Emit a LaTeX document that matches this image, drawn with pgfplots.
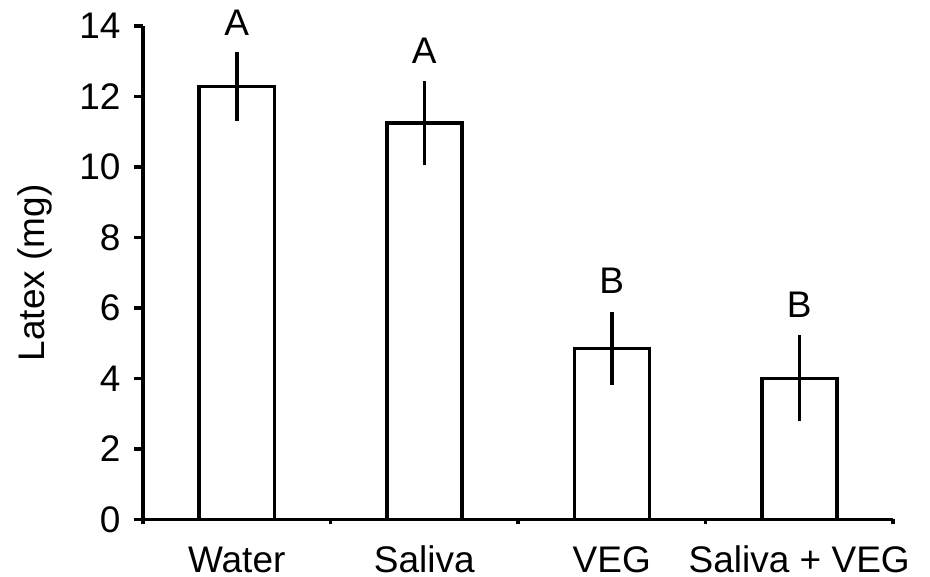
\documentclass[border=0pt]{standalone}
\usepackage{fontspec}
\setmainfont{Liberation Sans}
\usepackage{pgfplots}
\pgfplotsset{compat=1.18}
\begin{document}
\begin{tikzpicture}
\useasboundingbox (0,0) rectangle (930pt,577pt);
\begin{axis}[
  at={(143pt,57.5pt)}, anchor=south west,
  scale only axis, width=750pt, height=493.5pt,
  xmin=-0.5, xmax=3.5, ymin=0, ymax=14,
  axis x line=bottom, axis y line=left,
  axis line style={-, line width=3.5pt},
  ytick={0,2,...,14},
  xtick={0,1,2,3},
  xticklabels={Water,Saliva,VEG,Saliva + VEG},
  minor xtick={-0.5,0.5,1.5,2.5,3.5},
  every major x tick/.append style={draw=none},
  tick align=outside,
  major tick length=9pt, minor tick length=5pt,
  tick style={line width=3.5pt, black},
  /pgf/number format/assume math mode=true,
  font=\fontsize{37}{40}\selectfont,
  ticklabel style={font=\fontsize{37}{40}\selectfont},
  xticklabel style={anchor=base, inner sep=0pt, yshift=-44pt},
  yticklabel shift=10pt,
  ylabel={Latex (mg)},
  every axis y label/.style={at={(axis description cs:-0.144,0.5)}, rotate=90, anchor=center, font=\fontsize{37}{40}\selectfont},
  clip=false,
]
\addplot[ybar, bar width=75pt, bar shift=0pt, fill=white, draw=black, line width=3.5pt,
  error bars/.cd, y dir=both, y explicit, error mark=none,
  error bar style={line width=3.5pt, black}]
  coordinates {
  (0,12.28) +- (0,0.98)
  (1,11.25) +- (0,1.2)
  (2,4.85) +- (0,1.03)
  (3,4.0) +- (0,1.22)
  };
\node[anchor=base, font=\fontsize{37}{40}\selectfont] at ([yshift=17pt]axis cs:0,13.26) {A};
\node[anchor=base, font=\fontsize{37}{40}\selectfont] at ([yshift=17pt]axis cs:1,12.45) {A};
\node[anchor=base, font=\fontsize{37}{40}\selectfont] at ([yshift=19pt]axis cs:2,5.88) {B};
\node[anchor=base, font=\fontsize{37}{40}\selectfont] at ([yshift=18pt]axis cs:3,5.22) {B};
\end{axis}
\end{tikzpicture}
\end{document}
